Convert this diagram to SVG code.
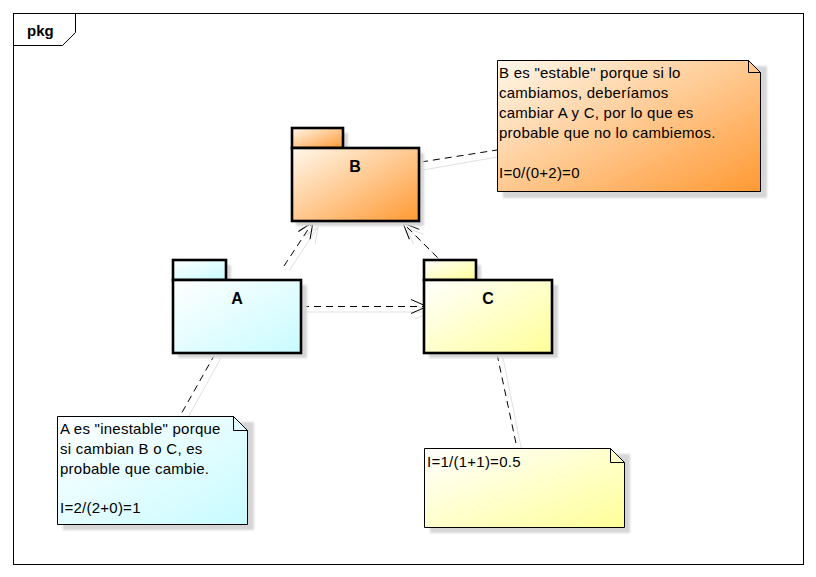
<svg xmlns="http://www.w3.org/2000/svg" width="816" height="577" viewBox="0 0 816 577">
<style>
text{font-family:"Liberation Sans",Arial,sans-serif;fill:#000}
.lbl{font-size:16px;font-weight:bold;text-anchor:middle}
.nt{font-size:15px;letter-spacing:0.25px}
.pk{stroke:#000;stroke-width:2.6}
.note{stroke:#000;stroke-width:1}
.sh{fill:#D6D6D6;filter:url(#blur)}
.dash{fill:none;stroke:#000;stroke-width:1;stroke-dasharray:7,5}
.shl{fill:none;stroke:#E0E0E0;stroke-width:1}
</style>
<defs>
<filter id="blur" x="-10%" y="-10%" width="120%" height="120%"><feGaussianBlur stdDeviation="1.2"/></filter>
<linearGradient id="gB" x1="0" y1="0" x2="1" y2="1"><stop offset="0" stop-color="#FFF8EC"/><stop offset="1" stop-color="#FF9933"/></linearGradient>
<linearGradient id="gA" x1="0" y1="0" x2="1" y2="1"><stop offset="0" stop-color="#FFFFFF"/><stop offset="1" stop-color="#C8FBFF"/></linearGradient>
<linearGradient id="gC" x1="0" y1="0" x2="1" y2="1"><stop offset="0" stop-color="#FFFFFF"/><stop offset="1" stop-color="#FFFF99"/></linearGradient>
<marker id="arr" markerUnits="userSpaceOnUse" markerWidth="20" markerHeight="20" viewBox="-18 -10 20 20" refX="0" refY="0" orient="auto"><path d="M-16,-7 L0,0 L-16,7" fill="none" stroke="#000" stroke-width="1"/></marker>
<marker id="arrs" markerUnits="userSpaceOnUse" markerWidth="20" markerHeight="20" viewBox="-18 -10 20 20" refX="0" refY="0" orient="auto"><path d="M-16,-7 L0,0 L-16,7" fill="none" stroke="#E0E0E0" stroke-width="1"/></marker>
</defs>
<rect width="816" height="577" fill="#fff"/>
<g id="frame">
<rect x="13.5" y="13.5" width="790" height="551" fill="none" stroke="#000" stroke-width="1"/>
<path d="M13.5,45.5 L62.5,45.5 L75.5,32.5 L75.5,13.5" fill="none" stroke="#000" stroke-width="1"/>
<text x="27" y="36" class="lbl" style="text-anchor:start;font-size:15px">pkg</text>
</g>
<g id="connectors">
<line class="shl" x1="289" y1="271" x2="318" y2="227" marker-end="url(#arrs)"/>
<line class="shl" x1="450" y1="270" x2="407" y2="228" marker-end="url(#arrs)"/>
<line class="shl" x1="303" y1="312" x2="431" y2="312" marker-end="url(#arrs)"/>
<line class="shl" x1="423" y1="170" x2="497" y2="157"/>
<line class="shl" x1="221" y1="358" x2="187" y2="419"/>
<line class="shl" x1="503" y1="358" x2="522" y2="452"/>
<line class="dash" x1="284" y1="266" x2="313" y2="222" marker-end="url(#arr)"/>
<line class="dash" x1="446" y1="266" x2="403" y2="223" marker-end="url(#arr)"/>
<line class="dash" x1="302" y1="306.5" x2="427" y2="306.5" marker-end="url(#arr)"/>
<line class="dash" x1="421" y1="162" x2="497" y2="150"/>
<line class="dash" x1="215" y1="354" x2="180" y2="416"/>
<line class="dash" x1="497" y1="354" x2="517" y2="448"/>
</g>
<g id="B">
<rect class="sh" x="296" y="133" width="52" height="20"/>
<rect class="sh" x="296" y="153" width="128" height="73"/>
<rect class="pk" x="292" y="128" width="51" height="20" fill="url(#gB)"/>
<rect class="pk" x="292" y="148" width="127" height="73" fill="url(#gB)"/>
<text class="lbl" x="355" y="172">B</text>
</g>
<g id="A">
<rect class="sh" x="178" y="265" width="53" height="20"/>
<rect class="sh" x="178" y="285" width="129" height="73"/>
<rect class="pk" x="173" y="260" width="53" height="20" fill="url(#gA)"/>
<rect class="pk" x="173" y="280" width="128" height="73" fill="url(#gA)"/>
<text class="lbl" x="237" y="304">A</text>
</g>
<g id="C">
<rect class="sh" x="429" y="265" width="52" height="20"/>
<rect class="sh" x="429" y="285" width="129" height="73"/>
<rect class="pk" x="424" y="260" width="52" height="20" fill="url(#gC)"/>
<rect class="pk" x="424" y="280" width="128" height="73" fill="url(#gC)"/>
<text class="lbl" x="488" y="304">C</text>
</g>
<g id="noteB">
<rect class="sh" x="503" y="66" width="264" height="132"/>
<path class="note" d="M497.5,60.5 L748.5,60.5 L760.5,72.5 L760.5,191.5 L497.5,191.5 Z" fill="url(#gB)"/>
<path class="note" d="M748.5,60.5 L748.5,72.5 L760.5,72.5" fill="none"/>
<text class="nt" x="499" y="78">B es "estable" porque si lo</text>
<text class="nt" x="499" y="98">cambiamos, deberíamos</text>
<text class="nt" x="499" y="118">cambiar A y C, por lo que es</text>
<text class="nt" x="499" y="138">probable que no lo cambiemos.</text>
<text class="nt" x="499" y="178">I=0/(0+2)=0</text>
</g>
<g id="noteA">
<rect class="sh" x="63" y="422" width="191" height="108"/>
<path class="note" d="M57.5,416.5 L233.5,416.5 L247.5,430.5 L247.5,524.5 L57.5,524.5 Z" fill="url(#gA)"/>
<path class="note" d="M233.5,416.5 L233.5,430.5 L247.5,430.5" fill="none"/>
<text class="nt" x="60" y="434">A es "inestable" porque</text>
<text class="nt" x="60" y="454">si cambian B o C, es</text>
<text class="nt" x="60" y="474">probable que cambie.</text>
<text class="nt" x="60" y="513">I=2/(2+0)=1</text>
</g>
<g id="noteC">
<rect class="sh" x="430" y="454" width="200" height="79"/>
<path class="note" d="M424.5,448.5 L610.5,448.5 L624.5,462.5 L624.5,527.5 L424.5,527.5 Z" fill="url(#gC)"/>
<path class="note" d="M610.5,448.5 L610.5,462.5 L624.5,462.5" fill="none"/>
<text class="nt" x="427" y="467">I=1/(1+1)=0.5</text>
</g>
</svg>
